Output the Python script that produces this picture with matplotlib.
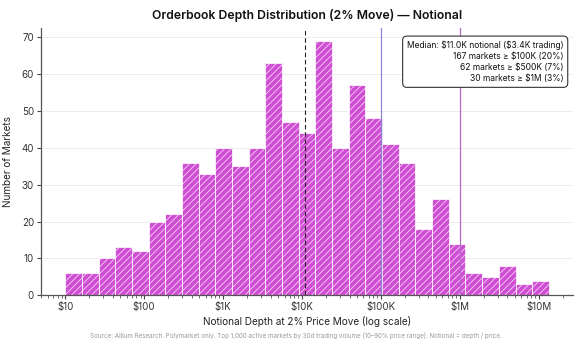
import numpy as np
import matplotlib
matplotlib.use("Agg")
import matplotlib.pyplot as plt
from matplotlib.ticker import FixedLocator, LogLocator, NullFormatter

# Histogram of notional depth (2% price move), log-spaced bins
depth_min = 10.0
depth_max = 1.34e7
bin_counts = [6, 6, 10, 13, 12, 20, 22, 36, 33, 40, 35, 40, 63, 47, 44,
              69, 40, 57, 48, 41, 36, 18, 26, 14, 6, 5, 8, 3, 4]

median_notional = 11_000
threshold_lines = [100_000, 1_000_000]
threshold_colors = ["#8f80d8", "#b868cc"]

tick_values = [10, 100, 1_000, 10_000, 100_000, 1_000_000, 10_000_000]
tick_labels = ["$10", "$100", "$1K", "$10K", "$100K", "$1M", "$10M"]

summary_lines = [
    "Median: $11.0K notional ($3.4K trading)",
    "167 markets \u2265 $100K (20%)",
    "62 markets \u2265 $500K (7%)",
    "30 markets \u2265 $1M (3%)",
]

title = "Orderbook Depth Distribution (2% Move) \u2014 Notional"
xlabel = "Notional Depth at 2% Price Move (log scale)"
ylabel = "Number of Markets"
source = ("Source: Allium Research. Polymarket only. Top 1,000 active markets by 30d "
          "trading volume (10\u201390% price range). Notional = depth / price.")

plt.rcParams["font.family"] = ["Inter", "DejaVu Sans"]
plt.rcParams["hatch.linewidth"] = 0.6

fig = plt.figure(figsize=(5.74, 3.43), dpi=100)
ax = fig.add_axes([0.0714, 0.139, 0.927, 0.7785])

edges = np.logspace(np.log10(depth_min), np.log10(depth_max), len(bin_counts) + 1)
ax.set_xscale("log")
ax.bar(edges[:-1], bin_counts, width=np.diff(edges), align="edge",
       color="#d04ed3", edgecolor=(1, 1, 1, 0.75), linewidth=0.7,
       hatch="/////", zorder=2)

ax.axvline(median_notional, color="#222222", linestyle=(0, (4, 2.5)),
           linewidth=0.8, zorder=3)
for xv, c in zip(threshold_lines, threshold_colors):
    ax.axvline(xv, color=c, linewidth=0.9, zorder=3)

ax.xaxis.set_major_locator(FixedLocator(tick_values))
ax.set_xticklabels(tick_labels)
ax.xaxis.set_minor_locator(LogLocator(base=10, subs=np.arange(2, 10)))
ax.xaxis.set_minor_formatter(NullFormatter())

ax.set_yticks(range(0, 71, 10))
ax.yaxis.grid(True, color="#ececec", linewidth=0.7, zorder=0)
ax.set_axisbelow(True)

for s in ("top", "right"):
    ax.spines[s].set_visible(False)
for s in ("left", "bottom"):
    ax.spines[s].set_color("#555555")
    ax.spines[s].set_linewidth(0.9)

ax.tick_params(axis="both", which="major", labelsize=7, colors="#444444",
               length=3, width=0.8, labelcolor="#333333", pad=2)
ax.tick_params(axis="x", which="minor", length=1.8, width=0.6, colors="#555555")

ax.set_xlabel(xlabel, fontsize=7.2, color="#222222", labelpad=3)
ax.set_ylabel(ylabel, fontsize=7.2, color="#222222", labelpad=6)
ax.set_title(title, fontsize=8.8, fontweight="semibold", color="#111111", pad=7)

ax.text(0.982, 0.955, "\n".join(summary_lines), transform=ax.transAxes,
        ha="right", va="top", multialignment="right", fontsize=6.1,
        color="#111111", linespacing=1.3, zorder=5, parse_math=False,
        bbox=dict(boxstyle="round,pad=0.5,rounding_size=0.5", fc="white",
                  ec="#333333", lw=0.8))

fig.text(0.515, 0.012, source, ha="center", va="bottom", fontsize=4.5,
         color="#999999")

fig.savefig("out.png", dpi=100)
